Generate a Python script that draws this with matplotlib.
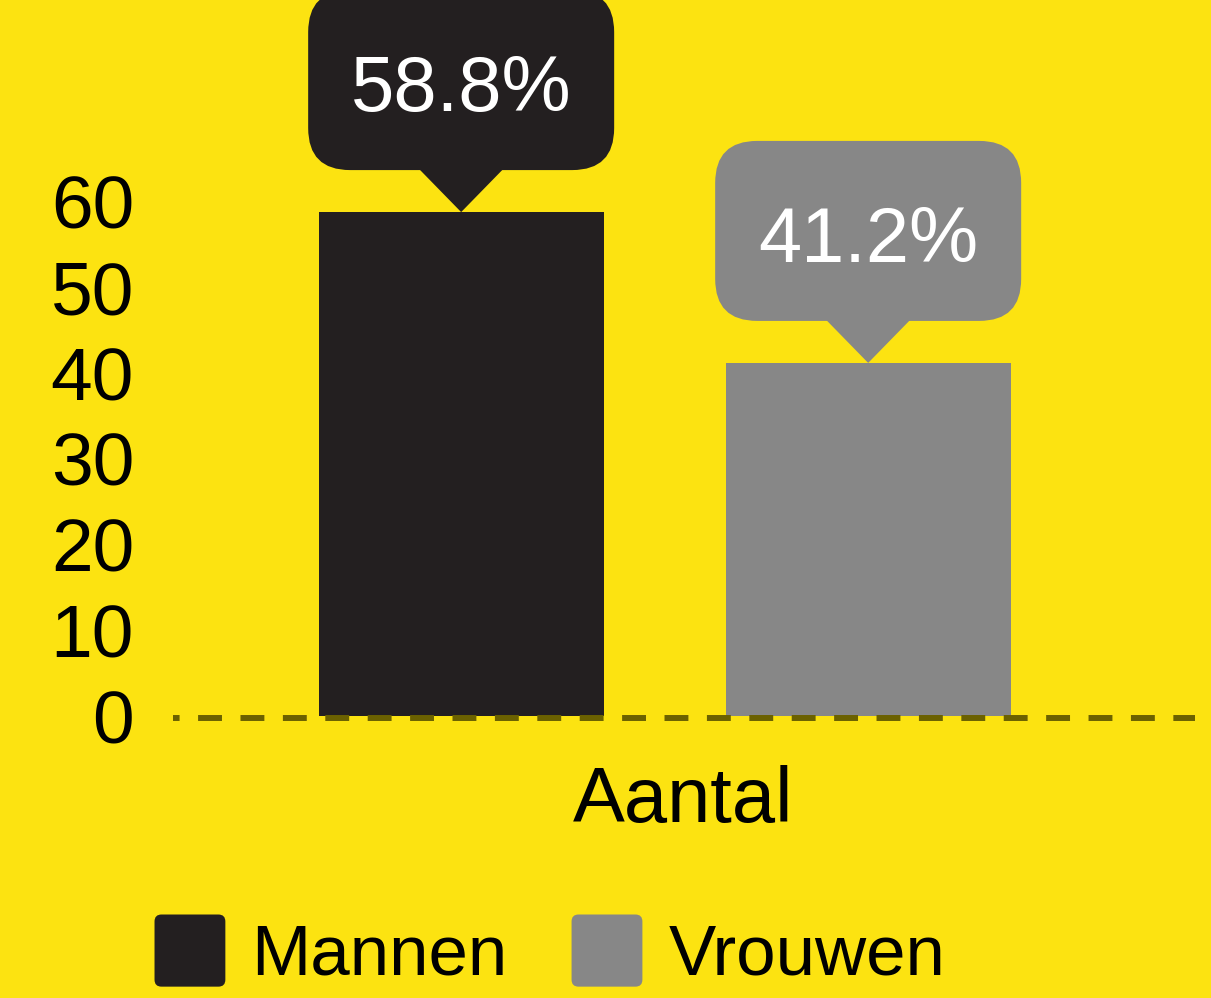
import matplotlib.pyplot as plt
import matplotlib.transforms as mtransforms
from matplotlib.patches import FancyBboxPatch, Polygon, Patch
from matplotlib.legend_handler import HandlerPatch

plt.rcParams["font.family"] = ["Liberation Sans", "DejaVu Sans"]

BG = "#FCE311"

groups = ["Mannen", "Vrouwen"]
values = [58.8, 41.2]
labels = ["58.8%", "41.2%"]
colors = ["#231F20", "#878787"]
offsets = [-0.5, 0.5]
yticks = [0, 10, 20, 30, 40, 50, 60]
category = "Aantal"


def round_patch(legend, orig_handle, xdescent, ydescent, width, height, fontsize):
    return FancyBboxPatch((-xdescent, -ydescent), width, height,
                          boxstyle="round,pad=0,rounding_size=5")


def callout(ax, fig, x, y, text, color):
    # shape drawn in inches relative to the bar top, so corners stay round
    trans = fig.dpi_scale_trans + mtransforms.ScaledTranslation(x, y, ax.transData)
    tri = Polygon([(0, 0), (-0.42, 0.43), (0.42, 0.43)], closed=True,
                  facecolor=color, edgecolor="none", transform=trans, clip_on=False)
    box = FancyBboxPatch((-1.53, 0.42), 3.06, 1.80,
                         boxstyle="round,pad=0,rounding_size=0.42",
                         facecolor=color, edgecolor="none", transform=trans, clip_on=False)
    ax.add_patch(tri)
    ax.add_patch(box)
    ax.text(0, 1.01, text, transform=trans, ha="center", va="baseline",
            color="white", fontsize=56, clip_on=False)


def main():
    fig = plt.figure(figsize=(12.11, 9.98), dpi=100, facecolor=BG)
    ax = fig.add_axes([173 / 1211, 1 - 716 / 998, (1195 - 173) / 1211, 716 / 998])
    ax.set_facecolor(BG)

    ax.bar(offsets, values, width=0.7, color=colors, zorder=2)
    ax.axhline(-0.2, color="#6B6100", linewidth=4.3, zorder=3, clip_on=False,
               linestyle=(2.9, (4.0, 3.1)), dash_capstyle="butt")

    ax.set_xlim(-1.208, 1.303)
    ax.set_ylim(0, 716 / 8.57)
    ax.set_yticks(yticks)
    ax.set_yticklabels([str(t) for t in yticks], fontsize=54)
    ax.tick_params(axis="y", length=0, pad=28)
    ax.set_xticks([])
    for s in ax.spines.values():
        s.set_visible(False)

    for x, v, t, c in zip(offsets, values, labels, colors):
        callout(ax, fig, x, v, t, c)

    fig.text(683 / 1211, 1 - 822 / 998, category, ha="center", va="baseline", fontsize=56)

    handles = [Patch(facecolor=c, edgecolor="none", label=g) for g, c in zip(groups, colors)]
    fig.legend(handles=handles, loc="center", bbox_to_anchor=(550 / 1211, 1 - 952 / 998),
               ncol=2, frameon=False, fontsize=51, handlelength=1.0, handleheight=1.19,
               handletextpad=0.37, columnspacing=0.9, borderpad=0,
               handler_map={Patch: HandlerPatch(patch_func=round_patch)})

    fig.savefig("out.png", dpi=100, facecolor=BG)


if __name__ == "__main__":
    main()
